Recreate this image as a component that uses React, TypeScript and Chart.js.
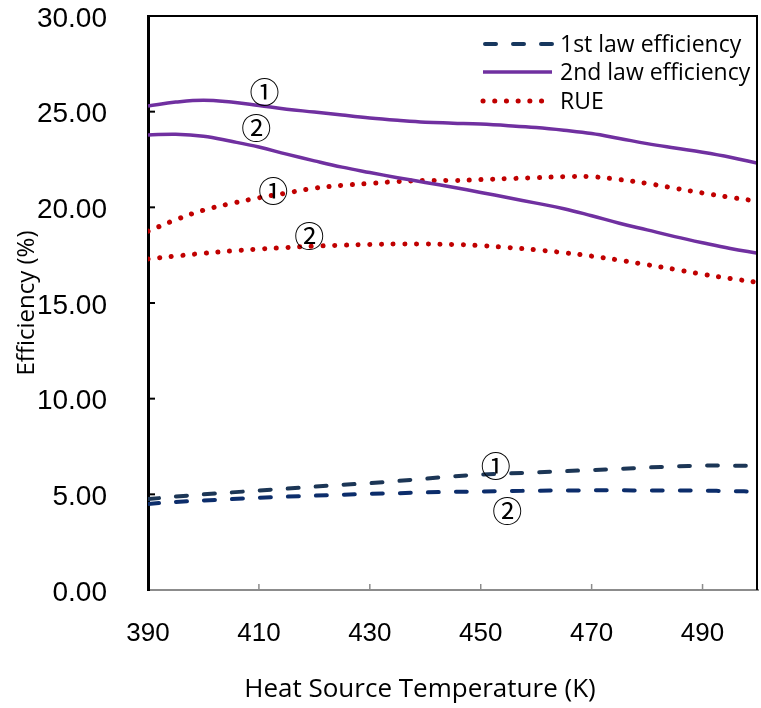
import React, { useEffect, useRef } from "react";
import { Chart, registerables } from "chart.js";

Chart.register(...registerables);

// ---- data ----
const temperatures = [390, 395, 400, 405, 410, 415, 420, 425, 430, 435, 440, 445, 450, 455, 460, 465, 470, 475, 480, 485, 490, 495, 500];
const firstLaw1 = [4.75, 4.88, 5.0, 5.1, 5.2, 5.3, 5.4, 5.5, 5.58, 5.7, 5.82, 5.94, 6.03, 6.09, 6.15, 6.21, 6.27, 6.33, 6.4, 6.46, 6.5, 6.5, 6.48];
const firstLaw2 = [4.5, 4.6, 4.68, 4.75, 4.82, 4.88, 4.93, 4.98, 5.03, 5.06, 5.1, 5.13, 5.15, 5.17, 5.19, 5.2, 5.21, 5.21, 5.2, 5.2, 5.19, 5.17, 5.14];
const secondLaw1 = [25.3, 25.5, 25.6, 25.5, 25.32, 25.13, 24.98, 24.82, 24.67, 24.55, 24.45, 24.4, 24.35, 24.27, 24.17, 24.03, 23.86, 23.6, 23.33, 23.1, 22.88, 22.62, 22.3];
const secondLaw2 = [23.78, 23.82, 23.72, 23.45, 23.15, 22.78, 22.43, 22.1, 21.82, 21.55, 21.3, 21.05, 20.78, 20.5, 20.22, 19.93, 19.56, 19.17, 18.82, 18.47, 18.15, 17.85, 17.6];
const rue1 = [18.75, 19.35, 19.85, 20.2, 20.5, 20.75, 21.0, 21.15, 21.25, 21.35, 21.4, 21.4, 21.45, 21.5, 21.55, 21.6, 21.6, 21.45, 21.25, 21.0, 20.75, 20.52, 20.32];
const rue2 = [17.3, 17.45, 17.6, 17.72, 17.82, 17.9, 17.97, 18.02, 18.06, 18.08, 18.08, 18.06, 18.0, 17.9, 17.78, 17.63, 17.45, 17.24, 17.0, 16.76, 16.5, 16.28, 16.08];

const xTicks = [390, 410, 430, 450, 470, 490];
const yTicks = [0, 5, 10, 15, 20, 25, 30];

const legendLabels = ["1st law efficiency", "2nd law efficiency", "RUE"];
const xTitle = "Heat Source Temperature (K)";
const yTitle = "Efficiency (%)";

// circled curve markers, in data coordinates
const markTexts = ["①", "②", "①", "②", "①", "②"];
const markX = [411, 409.5, 412.6, 419.1, 452.7, 454.8];
const markY = [26.03, 24.15, 20.9, 18.5, 6.48, 4.13];

const NAVY1 = "#1C3656";
const NAVY2 = "#0C2D6B";
const PURPLE = "#7030A0";
const RED = "#C00000";

const pts = (ys: number[]) => temperatures.map((t, i) => ({ x: t, y: ys[i] }));

const dashed = (color: string) => ({
  borderColor: color,
  borderWidth: 4,
  borderDash: [11, 17],
  borderCapStyle: "round" as const,
});
const solid = { borderColor: PURPLE, borderWidth: 3.5 };
const dotted = {
  borderColor: RED,
  borderWidth: 5,
  borderDash: [0.1, 11.6],
  borderCapStyle: "round" as const,
};

const decorPlugin = {
  id: "decor",
  afterDraw(chart: any) {
    const { ctx, chartArea, scales } = chart;
    const { left, right, top, bottom } = chartArea;
    ctx.save();
    // top and right frame
    ctx.strokeStyle = "#000";
    ctx.lineWidth = 2;
    ctx.beginPath();
    ctx.moveTo(left, top);
    ctx.lineTo(right - 1, top);
    ctx.lineTo(right - 1, bottom);
    ctx.stroke();
    // inward y ticks
    ctx.lineWidth = 2;
    yTicks.forEach((v) => {
      if (v === 0) return;
      const y = scales.y.getPixelForValue(v);
      ctx.beginPath();
      ctx.moveTo(left, y);
      ctx.lineTo(left + 7, y);
      ctx.stroke();
    });
    // inward x ticks
    ctx.strokeStyle = "#8C8C8C";
    ctx.lineWidth = 1.5;
    xTicks.forEach((v) => {
      if (v === 390) return;
      const x = scales.x.getPixelForValue(v);
      ctx.beginPath();
      ctx.moveTo(x, bottom);
      ctx.lineTo(x, bottom - 6);
      ctx.stroke();
    });

    // legend
    const rows = [44, 72, 101];
    const x0 = 483;
    const x1 = 552;
    const styles = [dashed("#17375E"), solid, dotted];
    rows.forEach((ry, i) => {
      const s: any = styles[i];
      ctx.beginPath();
      ctx.strokeStyle = s.borderColor;
      ctx.lineWidth = s.borderWidth;
      ctx.lineCap = s.borderCapStyle || "butt";
      ctx.setLineDash(s.borderDash || []);
      ctx.moveTo(x0 + (i === 0 ? 2 : 0), ry);
      ctx.lineTo(x1, ry);
      ctx.stroke();
      ctx.setLineDash([]);
      ctx.lineCap = "butt";
      ctx.fillStyle = "#000";
      ctx.font = "23px 'Open Sans'";
      ctx.textAlign = "left";
      ctx.textBaseline = "middle";
      ctx.fillText(legendLabels[i], 560, ry + 1);
    });

    // curve markers
    ctx.font = "30px 'Noto Sans CJK JP'";
    ctx.textAlign = "center";
    ctx.textBaseline = "middle";
    ctx.fillStyle = "#000";
    markTexts.forEach((t, i) => {
      const px = scales.x.getPixelForValue(markX[i]);
      const py = scales.y.getPixelForValue(markY[i]);
      ctx.fillText(t, px, py);
    });

    // x axis title
    ctx.font = "26px 'Open Sans'";
    ctx.fillText(xTitle, 420, 690);
    ctx.restore();
  },
};

export default function App() {
  const ref = useRef<HTMLCanvasElement | null>(null);
  useEffect(() => {
    if (!ref.current) return;
    const chart = new Chart(ref.current, {
      type: "line",
      data: {
        datasets: [
          { label: legendLabels[0] + " 1", data: pts(firstLaw1), ...dashed(NAVY1) },
          { label: legendLabels[0] + " 2", data: pts(firstLaw2), ...dashed(NAVY2) },
          { label: legendLabels[1] + " 1", data: pts(secondLaw1), ...solid },
          { label: legendLabels[1] + " 2", data: pts(secondLaw2), ...solid },
          { label: legendLabels[2] + " 1", data: pts(rue1), ...dotted },
          { label: legendLabels[2] + " 2", data: pts(rue2), ...dotted },
        ] as any,
      },
      options: {
        animation: false,
        responsive: false,
        maintainAspectRatio: false,
        layout: { autoPadding: false, padding: { top: 16, right: 3, left: 0, bottom: 0 } },
        elements: { point: { radius: 0 }, line: { tension: 0.4, fill: false } },
        plugins: { legend: { display: false }, tooltip: { enabled: false }, title: { display: false } },
        scales: {
          x: {
            type: "linear",
            min: 390,
            max: 500,
            afterBuildTicks: (s: any) => {
              s.ticks = xTicks.map((v) => ({ value: v }));
            },
            afterFit: (s: any) => {
              s.height = 118;
              s.paddingLeft = 0;
              s.paddingRight = 0;
              s.paddingTop = 0;
              s.paddingBottom = 0;
            },
            grid: { display: false },
            border: { display: true, color: "#8C8C8C", width: 2 },
            ticks: {
              color: "#000",
              font: { family: "'Liberation Sans', Arial", size: 26 },
              padding: 20,
              maxRotation: 0,
              autoSkip: false,
            },
          },
          y: {
            type: "linear",
            min: 0,
            max: 30,
            afterBuildTicks: (s: any) => {
              s.ticks = yTicks.map((v) => ({ value: v }));
            },
            afterFit: (s: any) => {
              s.width = 148;
              s.paddingLeft = 0;
              s.paddingRight = 0;
              s.paddingTop = 0;
              s.paddingBottom = 0;
            },
            grid: { display: false },
            border: { display: true, color: "#000", width: 3 },
            ticks: {
              color: "#000",
              font: { family: "'Liberation Sans', Arial", size: 28 },
              padding: 33,
              labelOffset: 3,
              callback: (v: any) => Number(v).toFixed(2),
            },
            title: {
              display: true,
              text: yTitle,
              color: "#000",
              font: { family: "'Open Sans'", size: 24 },
              padding: { top: 13, bottom: 0 },
            },
          },
        },
      },
      plugins: [decorPlugin],
    });
    return () => chart.destroy();
  }, []);
  return (
    <div style={{ position: "absolute", left: 0, top: 0, width: 761, height: 708, background: "#fff" }}>
      <canvas ref={ref} width={761} height={708} style={{ display: "block" }} />
    </div>
  );
}
